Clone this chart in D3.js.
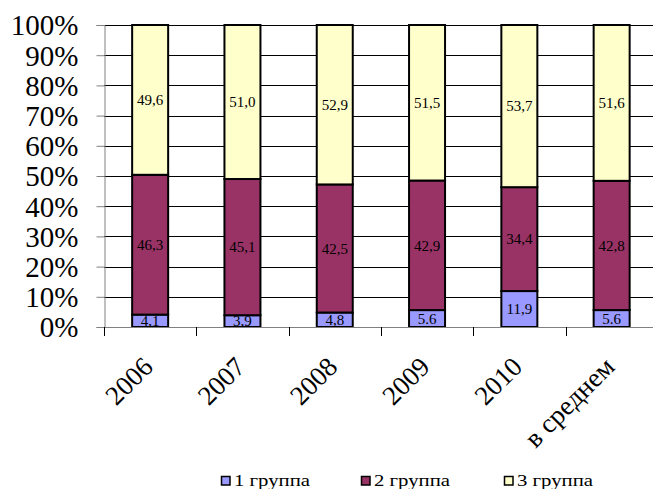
<!DOCTYPE html>
<html>
<head>
<meta charset="utf-8">
<script src="https://cdn.jsdelivr.net/npm/d3@7"></script>
</head>
<body style="margin:0">
<script>
var svgWidth = 653, svgHeight = 489;
var serif = "'Liberation Serif'";

// data
var years = ["2006", "2007", "2008", "2009", "2010", "в среднем"];
var group1 = [4.1, 3.9, 4.8, 5.6, 11.9, 5.6];
var group2 = [46.3, 45.1, 42.5, 42.9, 34.4, 42.8];
var group3 = [49.6, 51.0, 52.9, 51.5, 53.7, 51.6];
var group1Labels = ["4,1", "3,9", "4,8", "5.6", "11,9", "5.6"];
var seriesNames = ["1 группа", "2 группа", "3 группа"];
var seriesColors = ["#9999ff", "#993366", "#ffffcc"];
var yTicks = [0, 10, 20, 30, 40, 50, 60, 70, 80, 90, 100];

var plotLeft = 104, plotTop = 25, plotBottom = 327, step = 92.3;

var svg = d3.select("body")
  .append("svg")
  .attr("width", svgWidth)
  .attr("height", svgHeight);

var x = d3.scaleBand()
  .domain(years)
  .range([plotLeft, plotLeft + step * years.length])
  .paddingInner(0.61)
  .paddingOuter(0.305);

var y = d3.scaleLinear()
  .domain([0, 100])
  .range([plotBottom, plotTop]);

// gridlines
svg.append("g")
  .selectAll("line")
  .data(yTicks.filter(d => d > 0))
  .enter()
  .append("line")
  .attr("x1", plotLeft)
  .attr("x2", svgWidth)
  .attr("y1", d => Math.round(y(d)) + 0.5)
  .attr("y2", d => Math.round(y(d)) + 0.5)
  .attr("stroke", "#000")
  .attr("stroke-width", 1);

// y axis
var yAxis = svg.append("g")
  .attr("transform", "translate(" + (plotLeft + 0.5) + ",0)")
  .call(d3.axisLeft(y).tickValues(yTicks).tickSize(8).tickFormat(d => d + "%"));
yAxis.select(".domain").attr("stroke", "#808080");
yAxis.selectAll(".tick line").attr("stroke", "#808080");
yAxis.selectAll(".tick text")
  .attr("x", -26)
  .attr("dy", "0.34em")
  .attr("fill", "#000")
  .style("font-family", serif)
  .style("font-size", "29px");

// stacked data
var rows = years.map(function(yr, i) {
  var total = group1[i] + group2[i] + group3[i];
  return { year: yr, g1: group1[i] / total * 100, g2: group2[i] / total * 100, g3: group3[i] / total * 100,
           l1: group1Labels[i], l2: group2[i].toFixed(1).replace(".", ","), l3: group3[i].toFixed(1).replace(".", ",") };
});
var stack = d3.stack().keys(["g1", "g2", "g3"]);
var layers = stack(rows);

var layerG = svg.append("g")
  .selectAll("g")
  .data(layers)
  .enter()
  .append("g")
  .attr("fill", (d, i) => seriesColors[i]);

layerG.selectAll("rect")
  .data(d => d)
  .enter()
  .append("rect")
  .attr("x", d => x(d.data.year))
  .attr("y", d => y(d[1]))
  .attr("width", x.bandwidth())
  .attr("height", d => y(d[0]) - y(d[1]))
  .attr("stroke", "#000")
  .attr("stroke-width", 2);

// x axis line and ticks
svg.append("line")
  .attr("x1", plotLeft)
  .attr("x2", svgWidth)
  .attr("y1", plotBottom + 0.5)
  .attr("y2", plotBottom + 0.5)
  .attr("stroke", "#808080");

svg.append("g")
  .selectAll("line")
  .data(years)
  .enter()
  .append("line")
  .attr("x1", (d, i) => Math.round(plotLeft + i * step) + 0.5)
  .attr("x2", (d, i) => Math.round(plotLeft + i * step) + 0.5)
  .attr("y1", plotBottom)
  .attr("y2", plotBottom + 9)
  .attr("stroke", "#000");

// value labels
var labelKeys = ["l1", "l2", "l3"];
layerG.each(function(layer, li) {
  d3.select(this).selectAll("text")
    .data(layer)
    .enter()
    .append("text")
    .attr("x", d => x(d.data.year) + x.bandwidth() / 2)
    .attr("y", d => (y(d[0]) + y(d[1])) / 2)
    .attr("dy", "0.35em")
    .attr("text-anchor", "middle")
    .attr("fill", "#000")
    .style("font-family", serif)
    .style("font-size", "15px")
    .text(d => d.data[labelKeys[li]]);
});

// category labels
svg.append("g")
  .selectAll("text")
  .data(years)
  .enter()
  .append("text")
  .attr("transform", d => "translate(" + (x(d) + x.bandwidth() / 2 - 9) + "," + (plotBottom + 28) + ") rotate(-45)")
  .attr("text-anchor", "end")
  .attr("dy", "0.7em")
  .style("font-family", serif)
  .style("font-size", "27px")
  .text(d => d);

// legend
var legendX = [221, 361, 504];
var legend = svg.append("g")
  .selectAll("g")
  .data(seriesNames)
  .enter()
  .append("g")
  .attr("transform", (d, i) => "translate(" + legendX[i] + ",476)");

legend.append("rect")
  .attr("x", 0.5)
  .attr("y", 0.5)
  .attr("width", 8.5)
  .attr("height", 8.5)
  .attr("fill", (d, i) => seriesColors[i])
  .attr("stroke", "#000")
  .attr("stroke-width", 1.5);

legend.append("text")
  .attr("x", 13)
  .attr("y", 9.5)
  .attr("textLength", 76)
  .attr("lengthAdjust", "spacingAndGlyphs")
  .style("font-family", serif)
  .style("font-size", "17px")
  .text(d => d);
</script>
</body>
</html>
